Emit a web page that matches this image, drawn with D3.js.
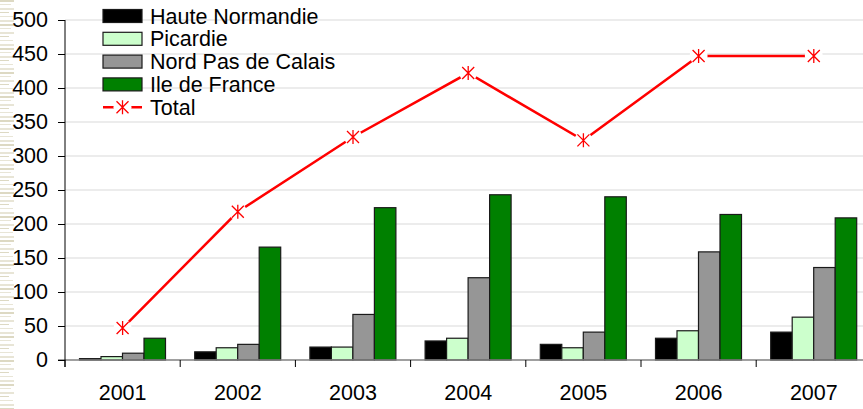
<!DOCTYPE html>
<html>
<head>
<meta charset="utf-8">
<script src="https://cdn.jsdelivr.net/npm/d3@7"></script>
<style>
  html, body { margin: 0; padding: 0; background: #fff; }
  svg { display: block; font-family: "Liberation Sans", Arial, sans-serif; }
</style>
</head>
<body>
<script>
// chart values
const years = ['2001', '2002', '2003', '2004', '2005', '2006', '2007'];
const series = ['Haute Normandie', 'Picardie', 'Nord Pas de Calais', 'Ile de France'];
const hauteNormandie = [2, 12, 19, 28, 23, 32, 41];
const picardie = [5, 18, 19, 32, 18, 43, 63];
const nordPasDeCalais = [10, 23, 67, 121, 41, 159, 136];
const ileDeFrance = [32, 166, 224, 243, 240, 214, 209];
const total = [47, 218, 328, 422, 323, 447, 447];
const yTicks = [0, 50, 100, 150, 200, 250, 300, 350, 400, 450, 500];

const colors = ['#000000', '#ccffcc', '#969696', '#008000'];
const seriesValues = [hauteNormandie, picardie, nordPasDeCalais, ileDeFrance];
const fontSize = '21.5px';

const W = 863, H = 409;
const svg = d3.select('body').append('svg')
    .attr('width', W)
    .attr('height', H);

// beige stripes at the left edge (page decoration)
const stripeRows = d3.range(0, H, 4);
svg.append('g').selectAll('rect')
    .data(stripeRows)
    .enter().append('rect')
    .attr('x', 0)
    .attr('y', d => d)
    .attr('width', (d, i) => [14, 11, 14, 9, 13, 14][i % 6])
    .attr('height', (d, i) => [2, 1, 2, 1, 1, 2][i % 6])
    .style('fill', (d, i) => i % 3 === 0 ? '#ddd9c3' : '#e8e5d6');

const y = d3.scaleLinear().domain([0, 500]).range([360, 20]);
const x = d3.scaleBand().domain(years).range([65, 65 + 7 * 115.2]).paddingInner(0).paddingOuter(0);
const xs = d3.scaleBand().domain(series).range([14.5, 100.5]).padding(0);

// gridlines
svg.append('g').selectAll('line')
    .data(yTicks.filter(d => d > 0))
    .enter().append('line')
    .attr('x1', 65).attr('x2', W)
    .attr('y1', d => y(d)).attr('y2', d => y(d))
    .style('stroke', '#d9d9d9')
    .style('stroke-width', 1);

// bars
const groups = svg.append('g').selectAll('g')
    .data(years)
    .enter().append('g')
    .attr('transform', d => `translate(${x(d)},0)`);

groups.selectAll('rect')
    .data((d, i) => series.map((s, k) => ({ s, k, v: seriesValues[k][i] })))
    .enter().append('rect')
    .attr('x', d => xs(d.s))
    .attr('y', d => y(d.v))
    .attr('width', xs.bandwidth())
    .attr('height', d => y(0) - y(d.v))
    .style('fill', d => colors[d.k])
    .style('stroke', '#1a1a1a')
    .style('stroke-width', 1.2);

// x axis line and ticks
svg.append('line')
    .attr('x1', 58).attr('x2', W)
    .attr('y1', y(0)).attr('y2', y(0))
    .style('stroke', '#808080')
    .style('stroke-width', 1.5);

svg.append('g').selectAll('line')
    .data(years)
    .enter().append('line')
    .attr('x1', d => x(d)).attr('x2', d => x(d))
    .attr('y1', y(0)).attr('y2', y(0) + 7)
    .style('stroke', '#000')
    .style('stroke-width', 1);

const xAxis = svg.append('g')
    .attr('transform', `translate(0,${y(0)})`)
    .call(d3.axisBottom(x).tickSize(0).tickPadding(25));
xAxis.select('.domain').remove();
xAxis.selectAll('text')
    .style('font-size', fontSize)
    .style('fill', '#000')
    .style('font-family', '"Liberation Sans", Arial, sans-serif');

// y axis
const yAxis = svg.append('g')
    .attr('transform', 'translate(65,0)')
    .call(d3.axisLeft(y).tickValues(yTicks).tickSize(7).tickPadding(10));
yAxis.select('.domain').remove();
yAxis.selectAll('line').style('stroke', '#000');
yAxis.selectAll('text')
    .style('font-size', fontSize)
    .style('fill', '#000')
    .style('font-family', '"Liberation Sans", Arial, sans-serif');
svg.append('line')
    .attr('x1', 65).attr('x2', 65)
    .attr('y1', y(500)).attr('y2', y(0) + 7)
    .style('stroke', '#000')
    .style('stroke-width', 1);

// total line
const cx = d => x(d) + x.bandwidth() / 2;
const line = d3.line()
    .x((d, i) => cx(years[i]))
    .y(d => y(d));

svg.append('path')
    .datum(total)
    .attr('d', line)
    .style('fill', 'none')
    .style('stroke', '#ff0000')
    .style('stroke-width', 2.5);

function asterisk(g, r) {
    g.append('circle').attr('r', r + 3).style('fill', '#fff');
    g.append('path')
        .attr('d', `M${-r},${-r}L${r},${r}M${-r},${r}L${r},${-r}M0,${-r - 1}L0,${r + 1}`)
        .style('stroke', '#ff0000')
        .style('stroke-width', 1.3)
        .style('fill', 'none');
}

svg.append('g').selectAll('g')
    .data(total)
    .enter().append('g')
    .attr('transform', (d, i) => `translate(${cx(years[i])},${y(d)})`)
    .each(function () { asterisk(d3.select(this), 6); });

// legend
const legend = svg.append('g').attr('transform', 'translate(103,16)');
const rowH = 22.8;
series.forEach((s, k) => {
    const row = legend.append('g').attr('transform', `translate(0,${k * rowH})`);
    row.append('rect')
        .attr('x', 0).attr('y', -6.5)
        .attr('width', 39).attr('height', 13)
        .style('fill', colors[k])
        .style('stroke', '#1a1a1a')
        .style('stroke-width', 1.2);
    row.append('text')
        .attr('x', 47).attr('y', 0).attr('dy', '0.35em')
        .style('font-size', fontSize)
        .text(s);
});
const tRow = legend.append('g').attr('transform', `translate(0,${4 * rowH})`);
tRow.append('line')
    .attr('x1', 0).attr('x2', 39).attr('y1', 0).attr('y2', 0)
    .style('stroke', '#ff0000').style('stroke-width', 2.5);
asterisk(tRow.append('g').attr('transform', 'translate(19.5,0)'), 6);
tRow.append('text')
    .attr('x', 47).attr('y', 0).attr('dy', '0.35em')
    .style('font-size', fontSize)
    .text('Total');
</script>
</body>
</html>
